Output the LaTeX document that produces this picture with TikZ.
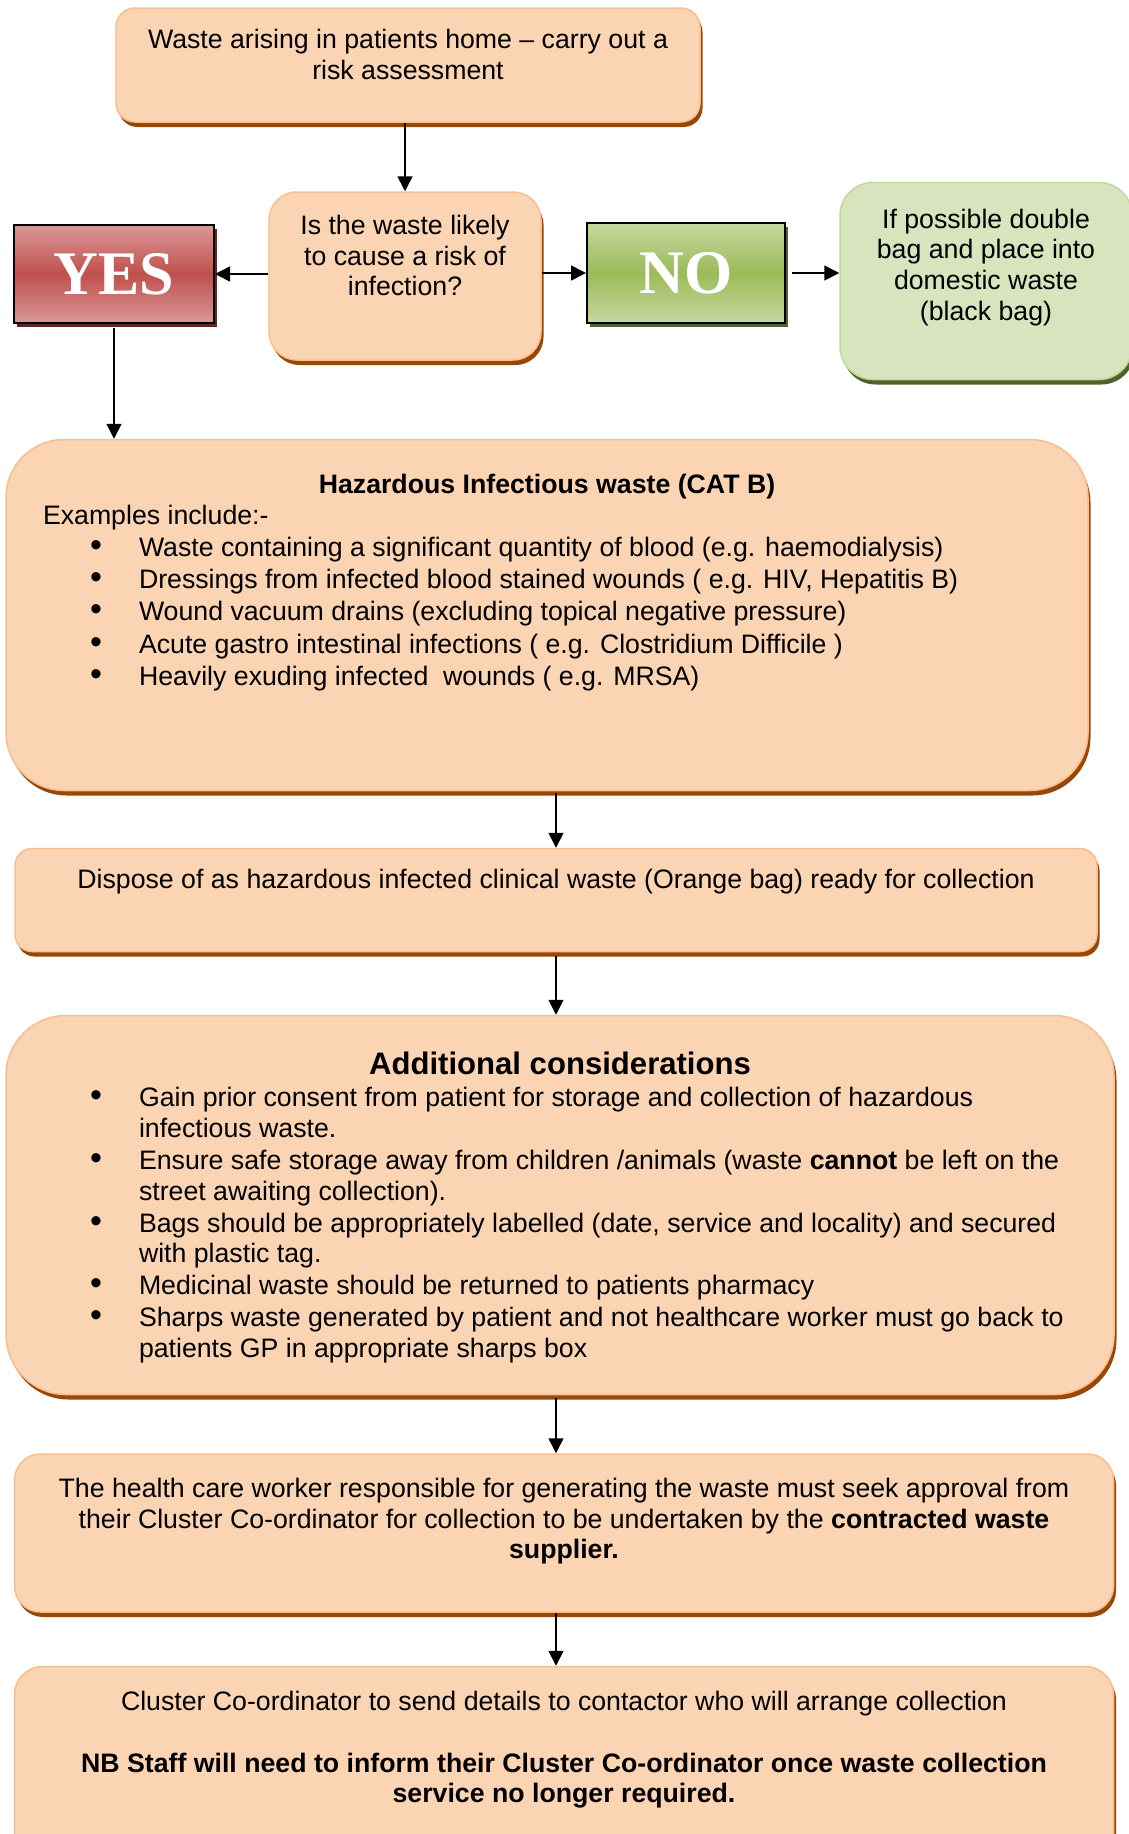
\documentclass[tikz,border=0pt]{standalone}
\usepackage{fontspec}
\setmainfont{Liberation Sans}
\newfontfamily\answerfont{Liberation Serif}
\usetikzlibrary{arrows.meta, shadows}

\definecolor{peach}{HTML}{FBD4B4}
\definecolor{peachline}{HTML}{F9BE8F}
\definecolor{peachshadow}{HTML}{984806}
\definecolor{leaf}{HTML}{D7E4BD}
\definecolor{leafline}{HTML}{C3D69B}
\definecolor{leafshadow}{HTML}{4F6228}
\definecolor{yeslight}{HTML}{DA9896}
\definecolor{yesdark}{HTML}{C0504D}
\definecolor{yesshadow}{HTML}{632423}
\definecolor{nolight}{HTML}{C5D89F}
\definecolor{nodark}{HTML}{9BBB59}

% box body: width, height, first baseline, text
\newcommand{\boxbody}[4]{\parbox[c][#2pt][t]{#1pt}{\setlength{\parskip}{2pt}\rule{0pt}{#3pt}#4}}
\newcommand{\wasteitem}[1]{\par\hangindent=133pt\hangafter=1\hspace*{84pt}\makebox[49pt][l]{\fontsize{34}{30}\selectfont\textbullet}#1\par}

\tikzset{
  stepbox/.style={rectangle, rounded corners=#1, fill=peach, draw=peachline, line width=1.5pt,
    inner sep=0pt, drop shadow={shadow xshift=2.5pt, shadow yshift=-5pt, fill=peachshadow, opacity=1}},
  greenbox/.style={rectangle, rounded corners=#1, fill=leaf, draw=leafline, line width=1.5pt,
    inner sep=0pt, drop shadow={shadow xshift=2.5pt, shadow yshift=-5pt, fill=leafshadow, opacity=1}},
  answer/.style={rectangle, draw=black, line width=2pt, inner sep=0pt, text=white,
    font=\answerfont\bfseries\fontsize{62}{62}\selectfont},
}

\begin{document}
\begin{tikzpicture}[x=1pt, y=-1pt, font=\fontsize{26.7}{30.7}\selectfont]
\useasboundingbox (0,0) rectangle (1128,1834);

\node (home) at (408, 65) [stepbox=19pt] {\boxbody{584}{114}{40.5}{\centering
  Waste arising in patients home -- carry out a\\ risk assessment}};

\node (risk) at (405, 276) [stepbox=28pt] {\boxbody{272}{168}{42.5}{\centering
  Is the waste likely\\ to cause a risk of\\ infection?}};

\node (yes) at (114, 274) [answer, minimum width=200pt, minimum height=98pt,
  top color=yeslight, bottom color=yeslight, middle color=yesdark,
  drop shadow={shadow xshift=3pt, shadow yshift=-4pt, fill=yesshadow, opacity=1}] {YES};

\node (no) at (686, 273) [answer, minimum width=198pt, minimum height=100pt,
  top color=nolight, bottom color=nolight, middle color=nodark,
  drop shadow={shadow xshift=3pt, shadow yshift=-4pt, fill=leafshadow, opacity=1}] {NO};

\node (domestic) at (986, 281) [greenbox=33pt] {\boxbody{292}{197}{45.5}{\centering
  If possible double\\ bag and place into\\ domestic waste\\ (black bag)}};

\node (hazard) at (547, 615) [stepbox=58pt] {\boxbody{1082}{351}{53.5}{%
  {\centering\bfseries Hazardous Infectious waste (CAT B)\par}
  \raggedright\setlength{\parskip}{1.5pt}\vspace{-1pt}\hspace*{37pt}Examples include:-\par
  \wasteitem{Waste containing a significant quantity of blood (e.g. haemodialysis)}
  \wasteitem{Dressings from infected blood stained wounds ( e.g. HIV, Hepatitis B)}
  \wasteitem{Wound vacuum drains (excluding topical negative pressure)}
  \wasteitem{Acute gastro intestinal infections ( e.g. Clostridium Difficile )}
  \wasteitem{Heavily exuding infected \ wounds ( e.g. MRSA)}}};

\node (dispose) at (556, 900) [stepbox=17pt] {\boxbody{1082}{103}{40}{\centering
  Dispose of as hazardous infected clinical waste (Orange bag) ready for collection}};

\node (extra) at (560, 1205) [stepbox=60pt] {\boxbody{1108}{379}{58.5}{%
  {\centering\bfseries\fontsize{31.1}{35.8}\selectfont Additional considerations\par}
  \vspace{1pt}\raggedright\setlength{\parskip}{1.2pt}
  \wasteitem{Gain prior consent from patient for storage and collection of hazardous\newline infectious waste.}
  \wasteitem{Ensure safe storage away from children /animals (waste \textbf{cannot} be left on the\newline street awaiting collection).}
  \wasteitem{Bags should be appropriately labelled (date, service and locality) and secured\newline with plastic tag.}
  \wasteitem{Medicinal waste should be returned to patients pharmacy}
  \wasteitem{Sharps waste generated by patient and not healthcare worker must go back to\newline patients GP in appropriate sharps box}}};

\node (approval) at (564, 1533) [stepbox=26pt] {\boxbody{1099}{158}{43.5}{\centering
  The health care worker responsible for generating the waste must seek approval from\\
  their Cluster Co-ordinator for collection to be undertaken by the \textbf{contracted waste}\\
  \textbf{supplier.}}};

\node (contractor) at (564, 1768) [stepbox=28pt] {\boxbody{1099}{203}{43.5}{\centering
  Cluster Co-ordinator to send details to contactor who will arrange collection\\[31.5pt]
  \textbf{NB Staff will need to inform their Cluster Co-ordinator once waste collection}\\
  \textbf{service no longer required.}}};

\begin{scope}[>={Triangle[black, length=15pt, width=15pt]},
              every edge/.style={draw=black, line width=1.6pt}]
    \path [->] (home.south -| risk.north) edge (risk.north);
    \path [->] (risk.west |- yes.east) edge (yes.east);
    \path [->] (risk.east |- no.west) edge (no.west);
    \path [->, shorten <=6pt] (no.east) edge (domestic.west |- no.east);
    \path [->, shorten <=4pt] (yes.south) edge (yes.south |- hazard.north);
    \path [->, shorten <=2pt] (hazard.south -| dispose.north) edge (dispose.north);
    \path [->, shorten <=4pt] (dispose.south) edge (dispose.south |- extra.north);
    \path [->, shorten <=3pt] (dispose.south |- extra.south) edge (dispose.south |- approval.north);
    \path [->] (dispose.south |- approval.south) edge (dispose.south |- contractor.north);
\end{scope}
\end{tikzpicture}
\end{document}
